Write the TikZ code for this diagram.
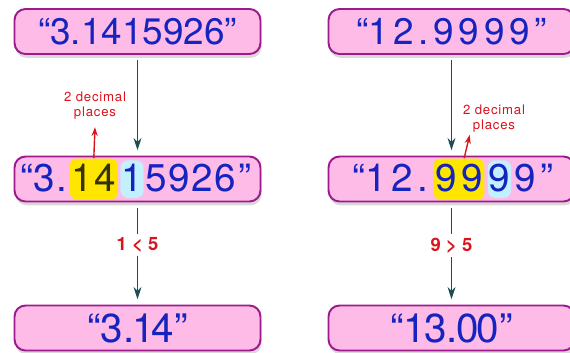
\documentclass[tikz,border=0pt]{standalone}
\usepackage{fontspec}
\setmainfont{TeX Gyre Heros}
\newfontfamily\notefont[LetterSpace=6]{TeX Gyre Heros}
\usetikzlibrary{arrows.meta,positioning,shadows}
\definecolor{boxpink}{HTML}{FFBBE8}
\definecolor{boxrim}{HTML}{9C1A8C}
\definecolor{digitblue}{HTML}{1524BE}
\definecolor{arrowteal}{HTML}{1E4E55}
\definecolor{notered}{HTML}{D8141C}
\definecolor{hlyellow}{HTML}{FFE600}
\definecolor{hlcyan}{HTML}{C2F0FF}
\definecolor{darkdigit}{HTML}{363300}
\newcommand{\dgap}{\kern1pt}
\newcommand{\wgap}{\kern2.6pt}
\tikzset{
  numbox/.style={draw=boxrim,line width=1.1pt,fill=boxpink,rounded corners=2.2mm,
    minimum width=4.92cm,minimum height=0.9cm,
    drop shadow={opacity=0.3,shadow xshift=0.6pt,shadow yshift=-2.2pt}},
  numtext/.style={text=digitblue,font=\fontsize{21}{21}\selectfont},
  bigtext/.style={text=digitblue,font=\fontsize{23}{23}\selectfont},
  midtext/.style={text=digitblue,font=\fontsize{22}{22}\selectfont,inner sep=0pt},
  yellowmark/.style={midtext,fill=hlyellow,rounded corners=1.5mm,inner xsep=1pt,text height=18.5pt,text depth=5pt},
  cyanmark/.style={midtext,fill=hlcyan,rounded corners=1.5mm,inner xsep=0.5pt,text height=17.5pt,text depth=4pt},
  downarrow/.style={-{Stealth[length=7pt,width=4.5pt]},line width=0.85pt,arrowteal,shorten <=3pt,shorten >=3pt},
  notearrow/.style={-{Stealth[length=5pt,width=3.5pt]},line width=0.8pt,notered},
  notelabel/.style={text=notered,font=\notefont\fontsize{7.5}{8.6}\selectfont,align=center,inner sep=1pt},
  rulenote/.style={text=notered,font=\fontsize{10.5}{10.5}\selectfont\bfseries,fill=white,inner sep=2pt}
}
\begin{document}
\begin{tikzpicture}[x=0.02cm,y=-0.02cm]
  \useasboundingbox (0,0) rectangle (570,352);
  \clip (0,0) rectangle (570,352);
  % boxes
  \node[numbox,numtext] (tl) at (137.5,31.5) {“3.1415926”};
  \node[numbox,numtext] (tr) at (451.5,31.5) {“1\wgap 2\wgap .\wgap 9\wgap 9\wgap 9\wgap 9\wgap ”};
  \node[numbox] (ml) at (137.5,179) {};
  \node[numbox] (mr) at (451.5,179) {};
  \node[numbox,bigtext] (bl) at (137.5,328) {“3.\kern-1pt1\kern-2pt4”};
  \node[numbox,bigtext] (br) at (451.5,328) {“1\kern-1pt3.\kern-1pt0\kern-1pt0”};
  % marked digits, left
  \node[midtext,anchor=base west] (ml-a) at (20,191) {“3\dgap .\dgap};
  \node[yellowmark,text=darkdigit,base right=0pt of ml-a] (ml-b) {1\dgap 4};
  \node[cyanmark,base right=1pt of ml-b] (ml-c) {1};
  \node[midtext,base right=0.5pt of ml-c] (ml-d) {5\dgap 9\dgap 2\dgap 6\dgap ”};
  % marked digits, right
  \node[midtext,anchor=base west] (mr-a) at (352,191) {“1\wgap 2\wgap .\wgap};
  \node[yellowmark,base right=0pt of mr-a] (mr-b) {9\wgap 9};
  \node[cyanmark,base right=1.5pt of mr-b] (mr-c) {9};
  \node[midtext,base right=1.5pt of mr-c] (mr-d) {9\wgap ”};
  % red notes
  \node[notelabel] (ml-note) at (95,106) {2 decimal\\places};
  \node[notelabel] (mr-note) at (494,119) {2 decimal\\places};
  \draw[notearrow] (ml-b.north) -- ([yshift=-3pt]ml-note.south);
  \draw[notearrow] ([xshift=3pt]mr-b.north) -- ([xshift=5pt]mr-note.south west);
  % steps
  \draw[downarrow] (tl) -- (ml);
  \draw[downarrow] (tr) -- (mr);
  \draw[downarrow] (ml) -- node[rulenote,pos=0.42] {1 < 5} (bl);
  \draw[downarrow] (mr) -- node[rulenote,pos=0.42] {9 > 5} (br);
\end{tikzpicture}
\end{document}
